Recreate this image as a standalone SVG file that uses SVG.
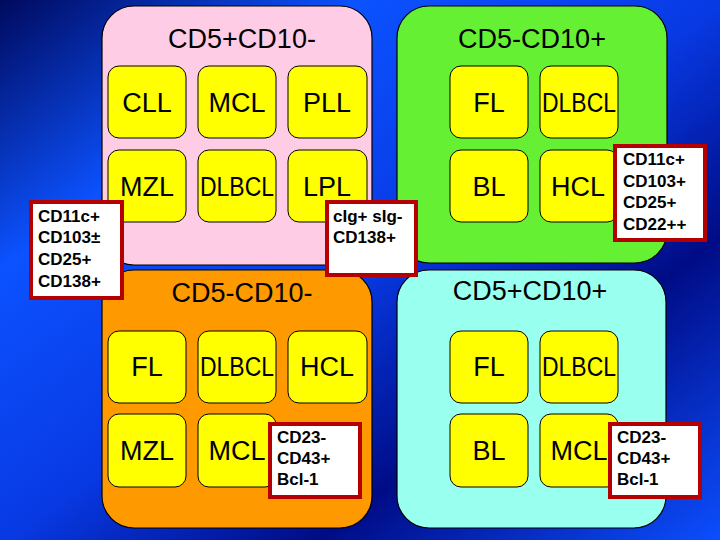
<svg xmlns="http://www.w3.org/2000/svg" width="720" height="540" viewBox="0 0 720 540">
<defs>
<linearGradient id="bg" x1="0" y1="0" x2="1" y2="1">
<stop offset="0" stop-color="#000a5e"/>
<stop offset="0.25" stop-color="#0c52ff"/>
<stop offset="0.5" stop-color="#083ae4"/>
<stop offset="0.72" stop-color="#000c86"/>
<stop offset="1" stop-color="#0c4eff"/>
</linearGradient>
<style>
.panel{stroke:#000;stroke-width:1.2}
.box{fill:#ffff00;stroke:#000;stroke-width:1}
.title{font-family:"Liberation Sans",Arial,sans-serif;font-size:27px;text-anchor:middle;fill:#000}
.lbl{font-family:"Liberation Sans",Arial,sans-serif;font-size:27px;text-anchor:middle;fill:#000}
.note{fill:#fff;stroke:#b40000;stroke-width:4}
.nt{font-family:"Liberation Sans",Arial,sans-serif;font-size:17px;font-weight:bold;fill:#000}
</style>
</defs>
<rect width="720" height="540" fill="url(#bg)"/>

<g id="panel-cd5pos-cd10neg">
<rect class="panel" x="102" y="6" width="270" height="259" rx="32" fill="#ffcce6"/>
<text class="title" x="242" y="48">CD5+CD10-</text>
<g id="n-cll"><rect class="box" x="108" y="66" width="78" height="72" rx="11"/><text class="lbl" x="147" y="112">CLL</text></g>
<g id="n-mcl1"><rect class="box" x="198" y="66" width="78" height="72" rx="11"/><text class="lbl" x="237" y="112">MCL</text></g>
<g id="n-pll"><rect class="box" x="288" y="66" width="79" height="72" rx="11"/><text class="lbl" x="327" y="112">PLL</text></g>
<g id="n-mzl1"><rect class="box" x="108" y="150" width="78" height="72" rx="11"/><text class="lbl" x="147" y="196">MZL</text></g>
<g id="n-dlbcl1"><rect class="box" x="198" y="150" width="78" height="72" rx="11"/><text class="lbl" x="237" y="196" textLength="74" lengthAdjust="spacingAndGlyphs">DLBCL</text></g>
<g id="n-lpl"><rect class="box" x="288" y="150" width="79" height="72" rx="11"/><text class="lbl" x="327" y="196">LPL</text></g>
</g>

<g id="panel-cd5neg-cd10pos">
<rect class="panel" x="397" y="6" width="270" height="257" rx="32" fill="#66f033"/>
<text class="title" x="532" y="48">CD5-CD10+</text>
<g id="n-fl1"><rect class="box" x="450" y="66" width="78" height="72" rx="11"/><text class="lbl" x="489" y="112">FL</text></g>
<g id="n-dlbcl2"><rect class="box" x="540" y="66" width="78" height="72" rx="11"/><text class="lbl" x="579" y="112" textLength="74" lengthAdjust="spacingAndGlyphs">DLBCL</text></g>
<g id="n-bl1"><rect class="box" x="450" y="150" width="78" height="72" rx="11"/><text class="lbl" x="489" y="196">BL</text></g>
<g id="n-hcl1"><rect class="box" x="540" y="150" width="78" height="72" rx="11"/><text class="lbl" x="578" y="196">HCL</text></g>
</g>

<g id="panel-cd5neg-cd10neg">
<rect class="panel" x="102" y="270" width="270" height="258" rx="32" fill="#ff9900"/>
<text class="title" x="242" y="302">CD5-CD10-</text>
<g id="n-fl2"><rect class="box" x="108" y="331" width="78" height="72" rx="11"/><text class="lbl" x="147" y="376">FL</text></g>
<g id="n-dlbcl3"><rect class="box" x="198" y="331" width="78" height="72" rx="11"/><text class="lbl" x="237" y="376" textLength="74" lengthAdjust="spacingAndGlyphs">DLBCL</text></g>
<g id="n-hcl2"><rect class="box" x="288" y="331" width="79" height="72" rx="11"/><text class="lbl" x="327" y="376">HCL</text></g>
<g id="n-mzl2"><rect class="box" x="108" y="414" width="78" height="73" rx="11"/><text class="lbl" x="147" y="460">MZL</text></g>
<g id="n-mcl2"><rect class="box" x="198" y="414" width="78" height="73" rx="11"/><text class="lbl" x="237" y="460">MCL</text></g>
</g>

<g id="panel-cd5pos-cd10pos">
<rect class="panel" x="397" y="270" width="269" height="258" rx="32" fill="#99ffee"/>
<text class="title" x="530" y="300">CD5+CD10+</text>
<g id="n-fl3"><rect class="box" x="450" y="331" width="78" height="72" rx="11"/><text class="lbl" x="489" y="376">FL</text></g>
<g id="n-dlbcl4"><rect class="box" x="540" y="331" width="78" height="72" rx="11"/><text class="lbl" x="579" y="376" textLength="74" lengthAdjust="spacingAndGlyphs">DLBCL</text></g>
<g id="n-bl2"><rect class="box" x="450" y="414" width="78" height="73" rx="11"/><text class="lbl" x="489" y="460">BL</text></g>
<g id="n-mcl3"><rect class="box" x="540" y="414" width="78" height="73" rx="11"/><text class="lbl" x="579" y="460">MCL</text></g>
</g>

<g id="note-hcl-left">
<rect class="note" x="31" y="202" width="91" height="96"/>
<text class="nt" x="38"><tspan x="38" y="222">CD11c+</tspan><tspan x="38" y="243">CD103±</tspan><tspan x="38" y="265">CD25+</tspan><tspan x="38" y="287">CD138+</tspan></text>
</g>
<g id="note-lpl">
<rect class="note" x="327" y="202" width="89" height="73"/>
<text class="nt" x="333"><tspan x="333" y="222">cIg+ sIg-</tspan><tspan x="333" y="243">CD138+</tspan></text>
</g>
<g id="note-hcl-right">
<rect class="note" x="615" y="146" width="90" height="94"/>
<text class="nt" x="623"><tspan x="623" y="165">CD11c+</tspan><tspan x="623" y="187">CD103+</tspan><tspan x="623" y="208">CD25+</tspan><tspan x="623" y="230">CD22++</tspan></text>
</g>
<g id="note-mcl-orange">
<rect class="note" x="270" y="424" width="90" height="73"/>
<text class="nt" x="277"><tspan x="277" y="443">CD23-</tspan><tspan x="277" y="464">CD43+</tspan><tspan x="277" y="485">Bcl-1</tspan></text>
</g>
<g id="note-mcl-cyan">
<rect class="note" x="610" y="424" width="90" height="73"/>
<text class="nt" x="617"><tspan x="617" y="443">CD23-</tspan><tspan x="617" y="464">CD43+</tspan><tspan x="617" y="485">Bcl-1</tspan></text>
</g>
<g id="connectors"/>
</svg>
